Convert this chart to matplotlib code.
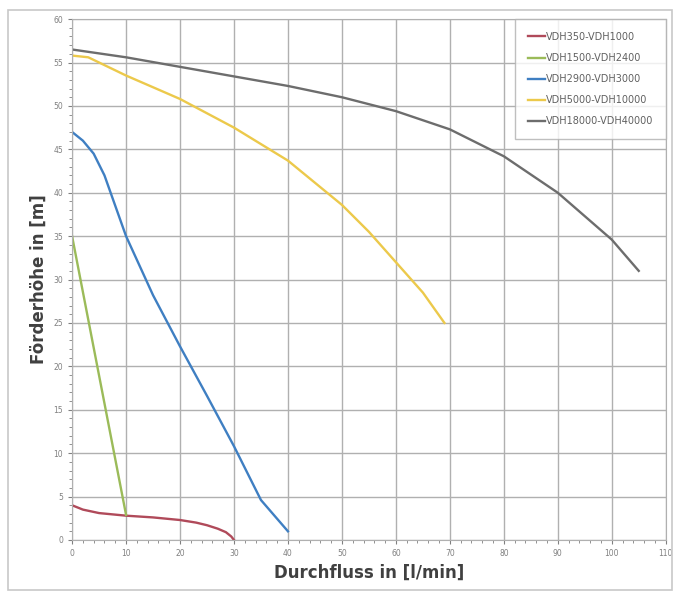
import numpy as np
import matplotlib.pyplot as plt
from matplotlib.patches import Rectangle

# Kennlinien (Durchfluss l/min, Förderhöhe m)
x_350 = [0, 2, 5, 10, 15, 20, 23, 25, 27, 28.5, 29.5, 30]
y_350 = [4.0, 3.5, 3.1, 2.8, 2.6, 2.3, 2.0, 1.7, 1.3, 0.9, 0.4, 0.0]

x_1500 = [0, 10]
y_1500 = [35, 2.9]

x_2900 = [0, 2, 4, 6, 8, 10, 15, 20, 25, 30, 35, 40]
y_2900 = [47, 46, 44.5, 42, 38.5, 35, 28.2, 22.3, 16.6, 10.8, 4.6, 1.0]

x_5000 = [0, 3, 5, 10, 20, 30, 40, 50, 55, 60, 65, 69]
y_5000 = [55.8, 55.6, 55.0, 53.5, 50.8, 47.5, 43.7, 38.6, 35.5, 32.0, 28.5, 25.0]

x_18000 = [0, 10, 20, 30, 40, 50, 60, 70, 80, 90, 100, 105]
y_18000 = [56.5, 55.6, 54.5, 53.4, 52.3, 51.0, 49.4, 47.3, 44.2, 40.0, 34.6, 31.0]

labels = ['VDH350-VDH1000', 'VDH1500-VDH2400', 'VDH2900-VDH3000',
          'VDH5000-VDH10000', 'VDH18000-VDH40000']
farben = ['#b04a5a', '#9bbb59', '#3f7fc2', '#ecc94b', '#6d6d6d']

fig = plt.figure(figsize=(6.8, 5.97), dpi=100)
ax = fig.add_axes([0.106, 0.0955, 0.873, 0.8725])

# Rahmen um das ganze Diagramm
fig.patches.append(Rectangle((0.012, 0.012), 0.976, 0.972, transform=fig.transFigure,
                             fill=False, edgecolor='#c8c8c8', lw=1.2))

daten = [(x_350, y_350), (x_1500, y_1500), (x_2900, y_2900),
         (x_5000, y_5000), (x_18000, y_18000)]
for (xs, ys), lab, c in zip(daten, labels, farben):
    ax.plot(xs, ys, color=c, lw=1.7, label=lab)

ax.set_xlim(0, 110)
ax.set_ylim(0, 60)
ax.set_xticks(np.arange(0, 111, 10))
ax.set_yticks(np.arange(0, 61, 5))
ax.set_xticks(np.arange(0, 111, 2), minor=True)
ax.set_yticks(np.arange(0, 61, 1), minor=True)
ax.grid(True, which='major', color='#b0b0b0', lw=1.0)
ax.tick_params(which='both', labelsize=5.5, colors='#808080', direction='out')
ax.tick_params(which='major', length=3)
ax.tick_params(which='minor', length=2)
for s in ax.spines.values():
    s.set_color('#b0b0b0')

ax.set_xlabel('Durchfluss in [l/min]', fontsize=12, fontweight='bold', color='#404040')
ax.set_ylabel('Förderhöhe in [m]', fontsize=12, fontweight='bold', color='#404040')

leg = ax.legend(loc='upper right', fontsize=7, frameon=True, fancybox=False,
                borderaxespad=0.0, handlelength=1.8, labelspacing=1.15,
                borderpad=1.3, handletextpad=0.05, labelcolor='#606060')
leg.get_frame().set_edgecolor('#b0b0b0')
leg.get_frame().set_linewidth(1.0)

fig.savefig('out.png', dpi=100)
